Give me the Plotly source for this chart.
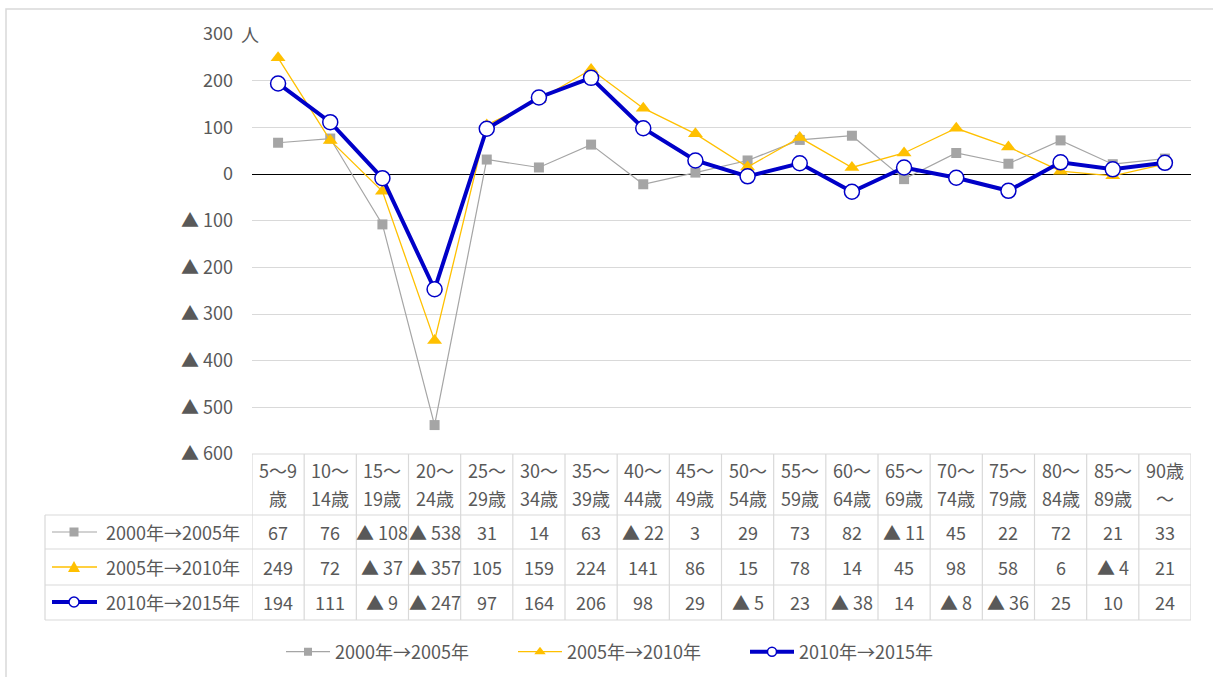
import plotly.graph_objects as go

categories_l1 = ["5～9", "10～", "15～", "20～", "25～", "30～", "35～", "40～", "45～",
                 "50～", "55～", "60～", "65～", "70～", "75～", "80～", "85～", "90歳"]
categories_l2 = ["歳", "14歳", "19歳", "24歳", "29歳", "34歳", "39歳", "44歳", "49歳",
                 "54歳", "59歳", "64歳", "69歳", "74歳", "79歳", "84歳", "89歳", "～"]

series_names = ["2000年→2005年", "2005年→2010年", "2010年→2015年"]
s2000_2005 = [67, 76, -108, -538, 31, 14, 63, -22, 3, 29, 73, 82, -11, 45, 22, 72, 21, 33]
s2005_2010 = [249, 72, -37, -357, 105, 159, 224, 141, 86, 15, 78, 14, 45, 98, 58, 6, -4, 21]
s2010_2015 = [194, 111, -9, -247, 97, 164, 206, 98, 29, -5, 23, -38, 14, -8, -36, 25, 10, 24]

y_tickvals = [300, 200, 100, 0, -100, -200, -300, -400, -500, -600]
y_ticktext = ["300", "200", "100", "0", "▲ 100", "▲ 200", "▲ 300", "▲ 400", "▲ 500", "▲ 600"]

W, H = 1213, 677
ML, MR, MT, MB = 45, 22, 34, 5
PW = W - ML - MR
PH = H - MT - MB


def px_x(p):
    return (p - ML) / PW


def px_y(p):
    return (H - MB - p) / PH


FONT = "Noto Sans CJK JP"
FS = 18
TXT = "#595959"
GRID = "#d9d9d9"
colors = ["#a5a5a5", "#ffc000", "#0000c8"]
line_w = [1.2, 1.3, 4]

x_idx = list(range(len(categories_l1)))
fig = go.Figure()
fig.add_trace(go.Scatter(x=x_idx, y=s2000_2005, name=series_names[0], mode="lines+markers",
                         showlegend=False,
                         line=dict(color=colors[0], width=line_w[0]),
                         marker=dict(symbol="square", size=10, color=colors[0])))
fig.add_trace(go.Scatter(x=x_idx, y=s2005_2010, name=series_names[1], mode="lines+markers",
                         showlegend=False,
                         line=dict(color=colors[1], width=line_w[1]),
                         marker=dict(symbol="triangle-up", size=13, color=colors[1])))
fig.add_trace(go.Scatter(x=x_idx, y=s2010_2015, name=series_names[2], mode="lines+markers",
                         showlegend=False,
                         line=dict(color=colors[2], width=line_w[2]),
                         marker=dict(symbol="circle", size=15, color="white",
                                     line=dict(color=colors[2], width=1.5))))
# legend entries (smaller symbols, like the original)
fig.add_trace(go.Scatter(x=[None], y=[None], name=series_names[0], mode="lines+markers",
                         line=dict(color=colors[0], width=line_w[0]),
                         marker=dict(symbol="square", size=8, color=colors[0])))
fig.add_trace(go.Scatter(x=[None], y=[None], name=series_names[1], mode="lines+markers",
                         line=dict(color=colors[1], width=line_w[1]),
                         marker=dict(symbol="triangle-up", size=10, color=colors[1])))
fig.add_trace(go.Scatter(x=[None], y=[None], name=series_names[2], mode="lines+markers",
                         line=dict(color=colors[2], width=line_w[2]),
                         marker=dict(symbol="circle", size=9, color="white",
                                     line=dict(color=colors[2], width=1.5))))

x0 = px_x(252)
y_bottom = px_y(454)
fig.update_layout(
    width=W, height=H,
    margin=dict(l=ML, r=MR, t=MT, b=MB, autoexpand=False),
    paper_bgcolor="white", plot_bgcolor="white",
    font=dict(family=FONT, size=FS, color=TXT),
    xaxis=dict(domain=[x0, 1], range=[-0.5, 17.5], showticklabels=False, showgrid=False,
               zeroline=False, showline=False, fixedrange=True, automargin=False),
    yaxis=dict(domain=[y_bottom, 1], range=[-600, 300], tickvals=y_tickvals, ticktext=y_ticktext,
               showgrid=True, gridcolor=GRID, gridwidth=1, zeroline=True, zerolinecolor="black",
               zerolinewidth=1, ticks="", ticklabelstandoff=18, showline=False, automargin=False,
               tickfont=dict(family=FONT, size=FS, color=TXT)),
    legend=dict(orientation="h", x=px_x(629), xanchor="center", y=px_y(652), yanchor="middle",
                font=dict(family=FONT, size=FS, color=TXT), itemwidth=44,
                entrywidth=173, entrywidthmode="pixels"),
    showlegend=True,
)

shapes = []
annotations = []
# outer chart border
shapes.append(dict(type="rect", xref="paper", yref="paper", x0=px_x(6), x1=px_x(1225),
                   y0=px_y(690), y1=px_y(9), line=dict(color=GRID, width=1.5), layer="below"))

# table geometry (pixel rows)
row_tops = [515, 549, 585]
row_bottom = 620
header_top = 454
shapes.append(dict(type="line", xref="x", yref="paper", x0=-0.5, x1=17.5,
                   y0=px_y(header_top), y1=px_y(header_top), line=dict(color=GRID, width=1.2)))
for p in row_tops + [row_bottom]:
    shapes.append(dict(type="line", xref="paper", yref="paper", x0=0, x1=px_x(1191),
                       y0=px_y(p), y1=px_y(p), line=dict(color=GRID, width=1.2)))
for i in range(len(categories_l1) + 1):
    shapes.append(dict(type="line", xref="x", yref="paper", x0=i - 0.5, x1=i - 0.5,
                       y0=px_y(row_bottom), y1=px_y(header_top), line=dict(color=GRID, width=1.2)))
shapes.append(dict(type="line", xref="paper", yref="paper", x0=0, x1=0,
                   y0=px_y(row_bottom), y1=px_y(row_tops[0]), line=dict(color=GRID, width=1.2)))

for i, (a, b) in enumerate(zip(categories_l1, categories_l2)):
    annotations.append(dict(x=i, y=px_y(470), xref="x", yref="paper", text=a, showarrow=False,
                            font=dict(family=FONT, size=FS, color=TXT), xanchor="center", yanchor="middle"))
    annotations.append(dict(x=i, y=px_y(498), xref="x", yref="paper", text=b, showarrow=False,
                            font=dict(family=FONT, size=FS, color=TXT), xanchor="center", yanchor="middle"))


def fmt(v):
    return "▲ " + str(-v) if v < 0 else str(v)


all_series = [s2000_2005, s2005_2010, s2010_2015]
row_centers = [532, 567, 602]
for r, (vals, yc) in enumerate(zip(all_series, row_centers)):
    for i, v in enumerate(vals):
        annotations.append(dict(x=i, y=px_y(yc), xref="x", yref="paper", text=fmt(v), showarrow=False,
                                font=dict(family=FONT, size=FS, color=TXT), xanchor="center",
                                yanchor="middle"))
    annotations.append(dict(x=px_x(104), y=px_y(yc), xref="paper", yref="paper", text=series_names[r],
                            showarrow=False, font=dict(family=FONT, size=FS, color=TXT),
                            xanchor="left", yanchor="middle"))
    shapes.append(dict(type="line", xref="paper", yref="paper", x0=px_x(52), x1=px_x(97),
                       y0=px_y(yc), y1=px_y(yc), line=dict(color=colors[r], width=line_w[r])))

cx = 74
yc = row_centers[0]
shapes.append(dict(type="rect", xref="paper", yref="paper", x0=px_x(cx - 4.5), x1=px_x(cx + 4.5),
                   y0=px_y(yc + 4.5), y1=px_y(yc - 4.5), fillcolor=colors[0], line=dict(width=0)))
yc = row_centers[1]
shapes.append(dict(type="path", xref="paper", yref="paper",
                   path=f"M {px_x(cx - 6)} {px_y(yc + 5)} L {px_x(cx + 6)} {px_y(yc + 5)} L {px_x(cx)} {px_y(yc - 6)} Z",
                   fillcolor=colors[1], line=dict(width=0)))
yc = row_centers[2]
shapes.append(dict(type="circle", xref="paper", yref="paper", x0=px_x(cx - 5), x1=px_x(cx + 5),
                   y0=px_y(yc + 5), y1=px_y(yc - 5), fillcolor="white",
                   line=dict(color=colors[2], width=1.5)))

annotations.append(dict(x=x0, y=300, xref="paper", yref="y", text="人", showarrow=False,
                        xanchor="center", yanchor="middle", xshift=-2,
                        font=dict(family=FONT, size=FS, color=TXT)))

fig.update_layout(shapes=shapes, annotations=annotations)
fig.write_html("out.html", config={"displayModeBar": False},
               post_script="document.body.style.margin='0px';")
